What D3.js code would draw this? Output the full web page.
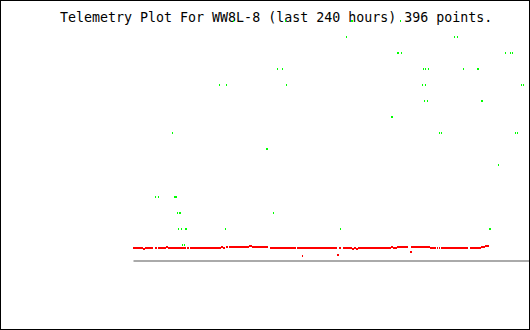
<!DOCTYPE html>
<html>
<head>
<meta charset="utf-8">
<script src="https://d3js.org/d3.v7.min.js"></script>
<style>
body { margin: 0; background: #ffffff; }
svg { display: block; }
</style>
</head>
<body>
<div id="plot"></div>
<script>
// Telemetry plot, last 240 hours

var title = "Telemetry Plot For WW8L-8 (last 240 hours) 396 points.";

// green channel: hour offset and reading
var greenHours = [60.5, 91.9, 131.8, 132.4, 161.4,
                  128.8, 194.1, 195.9,
                  159.6, 160.2, 162.0, 224.9, 227.9, 229.1,
                  87.1, 90.1, 175.3, 176.5, 178.3, 199.5, 208.0, 208.6,
                  52.0, 56.2, 92.5, 174.7, 176.5, 234.6, 235.8,
                  175.9, 177.7, 210.4, 211.0,
                  156.0, 156.6,
                  23.6, 185.0, 186.2, 230.9, 232.1,
                  80.4, 81.0,
                  220.7,
                  13.3, 15.1, 24.8, 25.4, 26.0,
                  26.6, 27.8, 28.4, 84.6,
                  27.2, 29.0, 31.4, 32.0, 55.6, 125.1, 215.2, 215.8,
                  29.6, 30.8];
var greenValues = [15, 15, 15, 15, 15,
                   14, 14, 14,
                   13, 13, 13, 13, 13, 13,
                   12, 12, 12, 12, 12, 12, 12, 12,
                   11, 11, 11, 11, 11, 11, 11,
                   10, 10, 10, 10,
                   9, 9,
                   8, 8, 8, 8, 8,
                   7, 7,
                   6,
                   4, 4, 4, 4, 4,
                   3, 3, 3, 3,
                   2, 2, 2, 2, 2, 2, 2, 2,
                   1, 1];

// red channel: runs of equal readings [from hour, to hour, reading]
var redRuns = [[0, 6.05, 0.81], [6.05, 7.25, 0.75], [7.25, 12.1, 0.81],
               [13.3, 14.5, 0.81], [15.1, 19.9, 0.81], [19.9, 21.2, 0.87],
               [21.2, 32.0, 0.81], [32.6, 33.9, 0.81], [34.5, 53.2, 0.81],
               [53.2, 54.4, 0.87], [54.4, 55.6, 0.81], [56.2, 57.4, 0.87],
               [58.0, 70.1, 0.87], [70.1, 71.9, 0.94], [71.9, 81.6, 0.87],
               [82.8, 98.5, 0.81], [99.1, 123.3, 0.81], [124.5, 125.7, 0.81],
               [127.0, 132.4, 0.81], [132.4, 133.6, 0.75], [133.6, 134.8, 0.81],
               [134.8, 136.0, 0.75], [136.0, 156.0, 0.81], [156.0, 157.2, 0.87],
               [157.2, 159.6, 0.81], [159.6, 166.2, 0.87], [168.0, 179.5, 0.87],
               [179.5, 183.2, 0.81], [183.8, 184.4, 0.81], [185.0, 185.6, 0.81],
               [186.2, 202.5, 0.81], [203.7, 210.4, 0.81], [210.4, 212.8, 0.87],
               [212.8, 215.2, 0.94],
               // stray readings
               [102.2, 102.8, 0.31], [123.3, 124.5, 0.37], [167.4, 168.6, 0.56]];

var W = 530, H = 330;
var margin = {left: 133, right: 0, top: 20, bottom: 70};

var svg = d3.select("#plot").append("svg")
  .attr("width", W)
  .attr("height", H);

svg.append("rect")
  .attr("width", W)
  .attr("height", H)
  .attr("fill", "#ffffff");

var x = d3.scaleLinear()
  .domain([0, 240])
  .range([margin.left, W - margin.right]);

// 16 px per unit, 0 sits on the grey base line
var y = d3.scaleLinear()
  .domain([0, 15])
  .range([H - margin.bottom, margin.top]);

// grey base line (axis with no ticks)
var xAxis = d3.axisBottom(x).tickValues([]).tickSizeOuter(0);
svg.append("g")
  .attr("transform", "translate(0," + (y(0) + 0.5) + ")")
  .call(xAxis)
  .call(function(g) {
    g.select(".domain").attr("stroke", "#aaaaaa").attr("stroke-width", 2);
  });

// red readings
svg.append("g")
  .attr("shape-rendering", "crispEdges")
  .selectAll("rect")
  .data(redRuns)
  .enter()
  .append("rect")
  .attr("x", function(d) { return Math.round(x(d[0])); })
  .attr("width", function(d) { return Math.max(1, Math.round(x(d[1])) - Math.round(x(d[0]))); })
  .attr("y", function(d) { return Math.round(y(d[2])); })
  .attr("height", 2)
  .attr("fill", "#ff0000");

// title
svg.append("text")
  .attr("x", 60)
  .attr("y", 22)
  .attr("font-family", "'DejaVu Sans Mono', monospace")
  .attr("font-size", "13.3px")
  .attr("fill", "#000000")
  .text(title);

// green readings (drawn over the title like the original)
svg.append("g")
  .attr("shape-rendering", "crispEdges")
  .selectAll("rect")
  .data(d3.range(greenHours.length))
  .enter()
  .append("rect")
  .attr("x", function(i) { return Math.round(x(greenHours[i])); })
  .attr("width", 1)
  .attr("y", function(i) { return Math.round(y(greenValues[i])); })
  .attr("height", 2)
  .attr("fill", "#00ff00");

// frame
svg.append("rect")
  .attr("x", 0.5)
  .attr("y", 0.5)
  .attr("width", W - 1)
  .attr("height", H - 1)
  .attr("fill", "none")
  .attr("stroke", "#000000")
  .attr("stroke-width", 1);
</script>
</body>
</html>
